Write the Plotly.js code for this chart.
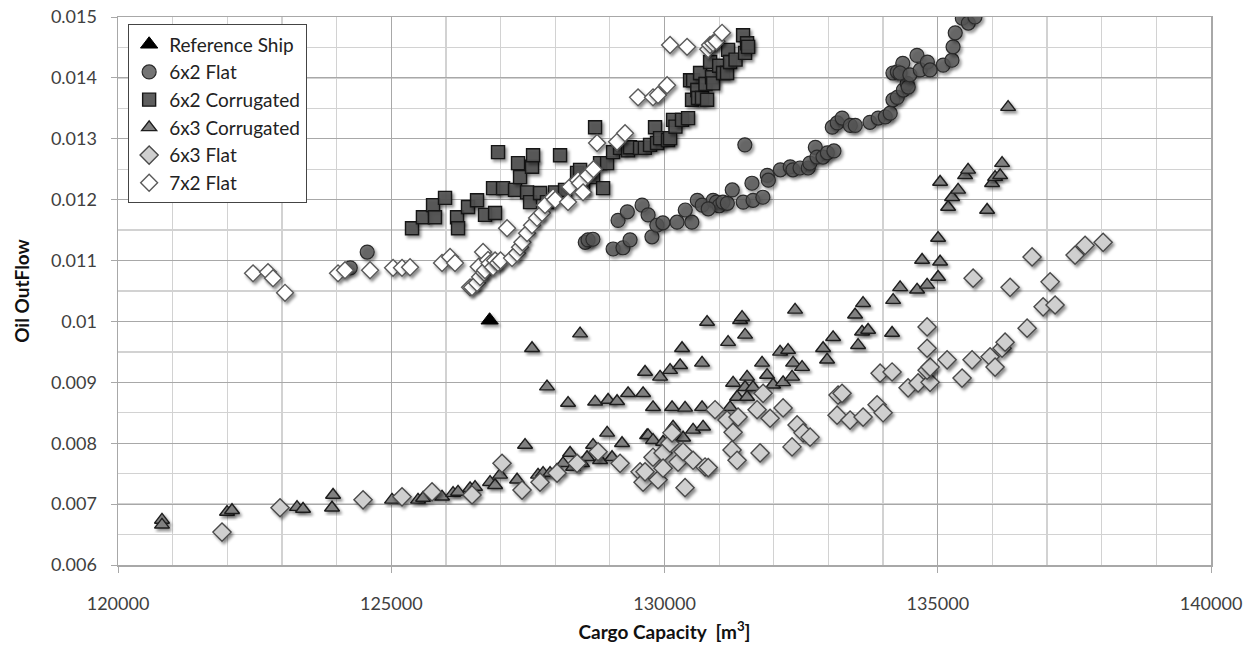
<!DOCTYPE html>
<html>
<head>
<meta charset="utf-8">
<script src="https://cdn.plot.ly/plotly-3.0.1.min.js"></script>
<style>
  html, body { margin: 0; padding: 0; background: #fff; }
  #chart { width: 1254px; height: 648px; }
</style>
</head>
<body>
<div id="chart"></div>
<script>
// ---- Data ----
const refShipX = [126800];
const refShipY = [0.01002];

const flat62X = [124250,124560,128550,128600,128690,129060,129240,129370,129150,129320,129590,129700,129770,129860,129970,130230,130500,130380,130600,130690,130890,130950,131000,130800,131070,131150,131240,131440,131470,131600,131620,131800,131880,131900,132120,132300,132350,132480,132630,132660,132760,132790,132900,132980,133070,133100,133160,133250,133400,133490,133760,133910,134040,134130,134180,134260,134370,134440,134460,134180,134260,134360,134310,134490,134620,134680,134810,134860,135100,135260,135280,135320,135450,135560,135680];
const flat62Y = [0.01088,0.01114,0.01130,0.01134,0.01135,0.01119,0.01121,0.01134,0.01166,0.01180,0.01191,0.01175,0.01139,0.01158,0.01162,0.01163,0.01163,0.01183,0.01199,0.01191,0.01199,0.01196,0.01190,0.01185,0.01196,0.01194,0.01216,0.01196,0.01290,0.01227,0.01199,0.01204,0.01240,0.01232,0.01249,0.01254,0.01249,0.01252,0.01252,0.01260,0.01286,0.01270,0.01270,0.01277,0.01319,0.01280,0.01326,0.01334,0.01322,0.01322,0.01327,0.01334,0.01336,0.01342,0.01364,0.01368,0.01380,0.01391,0.01385,0.01408,0.01410,0.01424,0.01408,0.01405,0.01437,0.01413,0.01426,0.01413,0.01421,0.01429,0.01451,0.01474,0.01498,0.01490,0.01500];

const corr62X = [125380,125580,125765,125800,125984,126204,126222,126405,126570,126716,126900,126863,126954,127046,127265,127320,127357,127485,127576,127595,127540,127723,127850,127997,128089,128180,128400,128455,128510,128730,128693,128821,128876,128950,129059,129187,129333,129370,129553,129640,129736,129827,129864,129919,130065,130102,130157,130200,130321,130431,130504,130468,130523,130600,130614,130651,130687,130750,130779,130834,130870,130889,131000,131072,131145,131163,131200,131300,131438,131474,131511,131529];
const corr62Y = [0.01153,0.01171,0.01191,0.01171,0.01203,0.01171,0.01153,0.01188,0.01199,0.01175,0.01178,0.01219,0.01278,0.01219,0.01216,0.01260,0.01237,0.01212,0.01254,0.01273,0.01196,0.01211,0.01196,0.01212,0.01273,0.01216,0.01244,0.01249,0.01219,0.01319,0.01237,0.01260,0.01219,0.01260,0.01278,0.01285,0.01281,0.01286,0.01285,0.01285,0.01290,0.01319,0.01293,0.01301,0.01298,0.01301,0.01331,0.01320,0.01331,0.01334,0.01364,0.01396,0.01396,0.01380,0.01367,0.01408,0.01367,0.01390,0.01364,0.01426,0.01401,0.01391,0.01420,0.01408,0.01408,0.01446,0.01426,0.01430,0.01470,0.01441,0.01457,0.01451];

const corr63X = [120805,120805,121995,122086,123276,123386,123916,123935,125014,125490,125582,125929,126131,126222,126442,126533,126808,126900,126991,127302,127448,127576,127686,127778,127850,127906,128034,128144,128235,128272,128327,128455,128491,128583,128693,128730,128821,128950,128968,129040,129132,129223,129333,129608,129644,129681,129699,129790,129790,129919,129974,130102,130138,130157,130285,130321,130340,130376,130523,130687,130687,130706,130779,131163,131255,131383,131419,131474,131511,131474,131328,131200,131511,131620,131785,131877,131987,132115,132261,132353,132517,132170,132334,132389,132902,132975,133085,133487,133633,133615,133725,133542,134164,134183,134311,134622,134805,134713,135043,135006,135006,135043,135189,135262,135372,135500,135555,135903,135994,136049,136141,136177,136287];
const corr63Y = [0.00674,0.00666,0.00687,0.00690,0.00695,0.00692,0.00694,0.00715,0.00707,0.00707,0.00710,0.00712,0.00718,0.00720,0.00726,0.00728,0.00736,0.00731,0.00748,0.00740,0.00797,0.00956,0.00748,0.00751,0.00893,0.00751,0.00756,0.00767,0.00866,0.00784,0.00761,0.00980,0.00767,0.00777,0.00797,0.00868,0.00772,0.00817,0.00871,0.00777,0.00869,0.00800,0.00882,0.00882,0.00917,0.00813,0.00813,0.00805,0.00859,0.00909,0.00802,0.00920,0.00859,0.00827,0.00928,0.00956,0.00809,0.00858,0.00822,0.00859,0.00932,0.00827,0.00999,0.00966,0.00899,0.01002,0.01007,0.00978,0.00909,0.00892,0.00876,0.00859,0.00876,0.00892,0.00932,0.00912,0.00896,0.00950,0.00953,0.00932,0.00925,0.00900,0.00909,0.01019,0.00956,0.00937,0.00974,0.01011,0.01030,0.00983,0.00986,0.00961,0.00981,0.01035,0.01056,0.01052,0.01060,0.01101,0.01098,0.01073,0.01137,0.01229,0.01188,0.01204,0.01216,0.01240,0.01249,0.01183,0.01227,0.01237,0.01240,0.01260,0.01352];

const flat63X = [121903,122965,124484,125197,125746,126478,127027,127393,127723,128034,128400,128784,129187,129553,129608,129644,129790,129882,129974,129974,130100,130138,130248,130340,130376,130523,130742,130800,130925,131145,131255,131236,131328,131346,131694,131749,131804,131932,132170,132334,132426,132536,132664,133158,133176,133249,133396,133634,133890,134000,133945,134164,134457,134640,134860,134805,134860,134805,134805,135171,135445,135628,135958,136049,136177,136232,136635,135647,136324,136726,136928,137056,137147,137513,137696,138026];
const flat63Y = [0.00654,0.00694,0.00707,0.00712,0.00720,0.00715,0.00767,0.00723,0.00736,0.00751,0.00767,0.00786,0.00767,0.00753,0.00736,0.00753,0.00777,0.00740,0.00784,0.00759,0.00800,0.00817,0.00769,0.00786,0.00727,0.00772,0.00761,0.00760,0.00855,0.00838,0.00818,0.00789,0.00772,0.00843,0.00855,0.00784,0.00882,0.00841,0.00858,0.00794,0.00830,0.00817,0.00810,0.00846,0.00879,0.00882,0.00838,0.00843,0.00863,0.00850,0.00915,0.00917,0.00891,0.00899,0.00900,0.00920,0.00925,0.00956,0.00991,0.00937,0.00907,0.00937,0.00942,0.00925,0.00956,0.00966,0.00989,0.01071,0.01056,0.01106,0.01024,0.01065,0.01027,0.01109,0.01125,0.01130];

const flat72X = [122471,122745,122837,123056,124026,124154,124612,125033,125197,125344,125929,126076,126167,126442,126478,126570,126600,126625,126680,126700,126716,126771,126800,126863,126900,126954,127000,127119,127210,127302,127357,127400,127485,127576,127668,127759,127814,127961,128000,128235,128272,128418,128455,128510,128600,128700,128766,129132,129278,129516,129790,129882,130047,130102,130413,130800,130834,130889,130950,131053];
const flat72Y = [0.01079,0.01081,0.01071,0.01047,0.01079,0.01084,0.01084,0.01088,0.01088,0.01089,0.01096,0.01106,0.01096,0.01056,0.01056,0.01063,0.01090,0.01073,0.01114,0.01080,0.01084,0.01101,0.01095,0.01089,0.01100,0.01096,0.01100,0.01153,0.01104,0.01112,0.01122,0.01130,0.01145,0.01158,0.01170,0.01178,0.01191,0.01204,0.01200,0.01196,0.01221,0.01232,0.01227,0.01212,0.01240,0.01250,0.01293,0.01295,0.01309,0.01368,0.01368,0.01372,0.01388,0.01454,0.01451,0.01447,0.01454,0.01457,0.01460,0.01474];

const xTicks = [120000,125000,130000,135000,140000];
const yTicks = [0.006,0.007,0.008,0.009,0.01,0.011,0.012,0.013,0.014,0.015];

// ---- Traces ----
function series(name, x, y, marker) {
  return { type: 'scatter', mode: 'markers', name, x, y, marker, cliponaxis: true, hoverinfo: 'x+y' };
}
const traces = [
  series('Reference Ship', refShipX, refShipY, { symbol: 'triangle-up', size: 15, color: '#000000', line: { color: '#000000', width: 1 } }),
  series('6x2 Flat', flat62X, flat62Y, { symbol: 'circle', size: 14, color: 'rgba(85,85,85,0.82)', line: { color: '#2a2a2a', width: 1.2 } }),
  series('6x2 Corrugated', corr62X, corr62Y, { symbol: 'square', size: 13, color: 'rgba(80,80,80,0.92)', line: { color: '#151515', width: 1.4 } }),
  series('6x3 Corrugated', corr63X, corr63Y, { symbol: 'triangle-up', size: 13, color: '#808080', line: { color: '#1e1e1e', width: 1.4 } }),
  series('6x3 Flat', flat63X, flat63Y, { symbol: 'diamond', size: 14, color: '#cfcfcf', line: { color: '#4a4a4a', width: 1.4 } }),
  series('7x2 Flat', flat72X, flat72Y, { symbol: 'diamond', size: 13, color: '#ffffff', line: { color: '#5a5a5a', width: 1.4 } })
];

const font = 'Lato, "Open Sans", "Liberation Sans", sans-serif';
const layout = {
  width: 1254, height: 648,
  margin: { l: 118, r: 43, t: 17, b: 83 },
  paper_bgcolor: '#ffffff', plot_bgcolor: '#ffffff',
  font: { family: font, size: 18, color: '#404040' },
  showlegend: true,
  legend: {
    x: 0.009, y: 0.987, xanchor: 'left', yanchor: 'top',
    bgcolor: '#ffffff', bordercolor: '#444444', borderwidth: 1.3,
    font: { family: font, size: 19, color: '#222222' },
    itemsizing: 'trace', tracegroupgap: 0
  },
  xaxis: {
    range: [120000, 140000], tickvals: xTicks, ticktext: xTicks.map(String),
    showgrid: true, gridcolor: '#a8a8a8', gridwidth: 1,
    minor: { dtick: 1000, showgrid: true, gridcolor: '#d2d2d2', gridwidth: 1.3 },
    zeroline: false, showline: true, linecolor: '#a8a8a8', linewidth: 1.5, mirror: true,
    ticks: 'outside', ticklen: 6, tickcolor: '#a8a8a8',
    ticklabelstandoff: 16,
    tickfont: { family: font, size: 18, color: '#404040' },
    title: { text: '<b>Cargo Capacity  [m<sup>3</sup>]</b>', font: { family: font, size: 19, color: '#111111' }, standoff: 12 }
  },
  yaxis: {
    range: [0.006, 0.015], tickvals: yTicks, ticktext: yTicks.map(v => String(+v.toFixed(3))),
    showgrid: true, gridcolor: '#a8a8a8', gridwidth: 1,
    minor: { dtick: 0.0005, showgrid: true, gridcolor: '#d2d2d2', gridwidth: 1.3 },
    zeroline: false, showline: true, linecolor: '#a8a8a8', linewidth: 1.5, mirror: true,
    ticks: 'outside', ticklen: 6, tickcolor: '#a8a8a8',
    ticklabelstandoff: 10,
    tickfont: { family: font, size: 18, color: '#404040' },
    title: { text: '<b>Oil OutFlow</b>', font: { family: font, size: 19, color: '#111111' }, standoff: 16 }
  }
};

Plotly.newPlot('chart', traces, layout, { displayModeBar: false, staticPlot: true }).then(gd => {
  // soft drop shadow like the original spreadsheet chart
  const svg = gd.querySelector('svg.main-svg');
  const ns = 'http://www.w3.org/2000/svg';
  let defs = svg.querySelector('defs');
  if (!defs) { defs = document.createElementNS(ns, 'defs'); svg.insertBefore(defs, svg.firstChild); }
  const f = document.createElementNS(ns, 'filter');
  f.setAttribute('id', 'mshadow'); f.setAttribute('x', '-50%'); f.setAttribute('y', '-50%');
  f.setAttribute('width', '200%'); f.setAttribute('height', '200%');
  f.innerHTML = '<feDropShadow dx="2" dy="2.5" stdDeviation="1.8" flood-color="#000" flood-opacity="0.45"/>';
  defs.appendChild(f);
  gd.querySelectorAll('.scatterlayer .trace .points path').forEach(p => p.setAttribute('filter', 'url(#mshadow)'));
});
</script>
</body>
</html>
